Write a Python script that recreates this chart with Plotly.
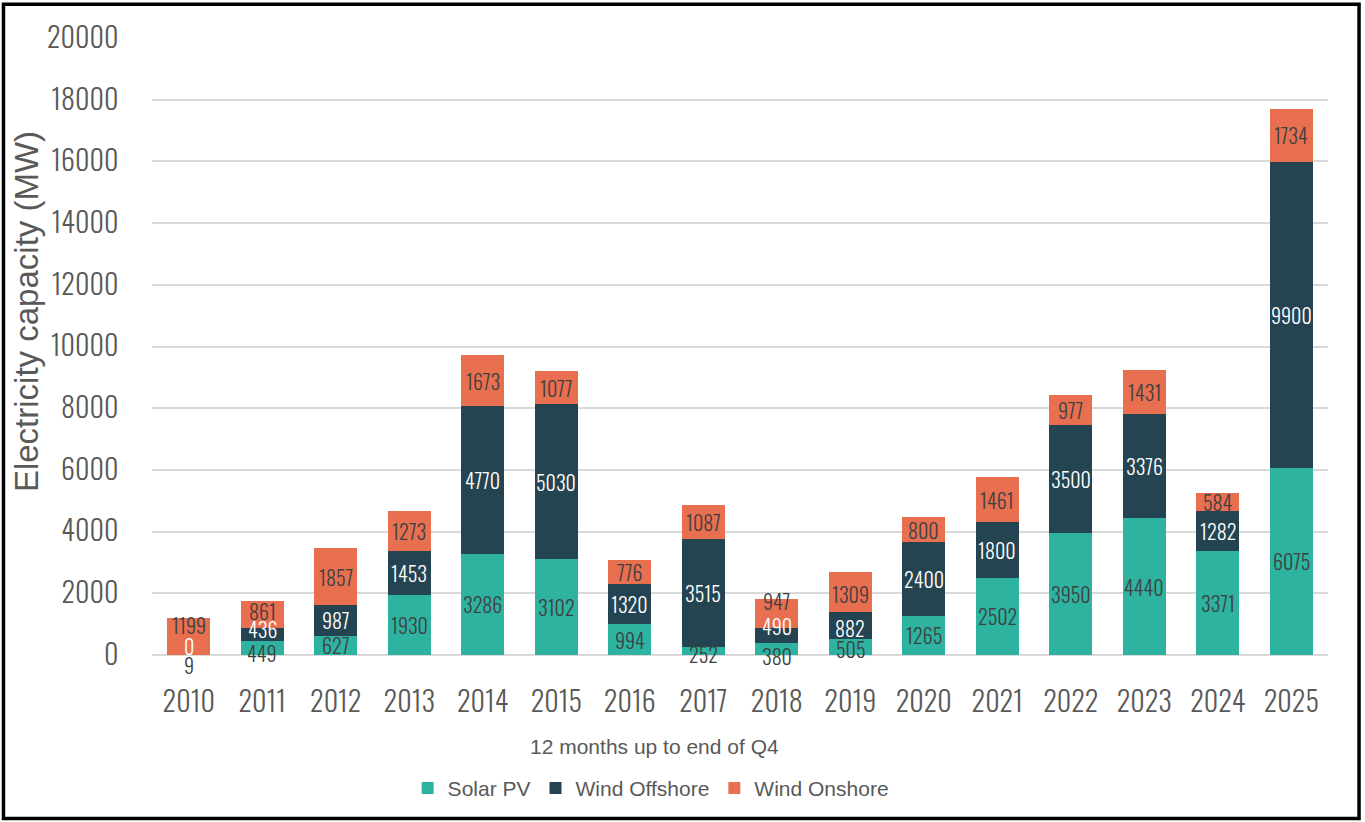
import plotly.graph_objects as go

years = [str(y) for y in range(2010, 2026)]
solar_pv = [9, 449, 627, 1930, 3286, 3102, 994, 252, 380, 505, 1265, 2502, 3950, 4440, 3371, 6075]
wind_offshore = [0, 436, 987, 1453, 4770, 5030, 1320, 3515, 490, 882, 2400, 1800, 3500, 3376, 1282, 9900]
wind_onshore = [1199, 861, 1857, 1273, 1673, 1077, 776, 1087, 947, 1309, 800, 1461, 977, 1431, 584, 1734]
y_ticks = list(range(0, 20001, 2000))

# label nudges (pixels, + = up) where the reference moved crowded labels apart
label_nudge = {
    ("2010", 0): -10, ("2010", 1): 9, ("2010", 2): 11,
    ("2011", 0): -5, ("2011", 1): 5, ("2011", 2): 3,
    ("2017", 0): -3,
    ("2018", 0): -7, ("2018", 1): 10, ("2018", 2): 13,
    ("2019", 0): -2, ("2019", 1): -2, ("2019", 2): -2,
}

COND = "Oswald, Roboto Condensed, sans-serif"
ARIAL = "Liberation Sans, Arial, sans-serif"
GREY = "#595959"

series = [
    ("Solar PV", solar_pv, "#2db3a0", "#404040"),
    ("Wind Offshore", wind_offshore, "#244451", "#ffffff"),
    ("Wind Onshore", wind_onshore, "#e86f50", "#404040"),
]

fig = go.Figure()
annotations = []
base = [0] * len(years)
for si, (name, vals, color, tcolor) in enumerate(series):
    fig.add_trace(go.Bar(
        name=name, x=years, y=vals,
        marker=dict(color=color, line=dict(width=0)),
        hoverinfo="skip",
    ))
    for i, (yr, v) in enumerate(zip(years, vals)):
        annotations.append(dict(
            x=i, y=base[i] + v / 2, xref="x", yref="y", text=str(v), showarrow=False,
            yshift=label_nudge.get((yr, si), 0), borderpad=0,
            font=dict(family=COND, size=20, color=tcolor, weight=300),
        ))
        base[i] += v

annotations.append(dict(
    x=0.4277, y=-0.149, xref="paper", yref="paper", text="12 months up to end of Q4",
    showarrow=False, xanchor="center", yanchor="middle",
    font=dict(family=ARIAL, size=21, color=GREY)))
annotations.append(dict(
    x=-0.1065, y=0.557, xref="paper", yref="paper", text="Electricity capacity (MW)",
    showarrow=False, xanchor="center", yanchor="middle", textangle=-90,
    font=dict(family=ARIAL, size=33, color=GREY)))

fig.update_layout(
    barmode="stack", bargap=0.415,
    width=1365, height=822,
    margin=dict(l=152, r=37, t=38, b=167),
    plot_bgcolor="white", paper_bgcolor="white",
    showlegend=True,
    legend=dict(orientation="h", x=0.424, xanchor="center", y=-0.216, yanchor="middle",
                font=dict(family=ARIAL, size=21, color=GREY),
                itemwidth=30, traceorder="normal"),
    xaxis=dict(
        type="category", range=[-0.5, len(years) - 0.5],
        tickfont=dict(family=COND, size=28, color=GREY, weight=300),
        ticks="outside", ticklen=22, tickcolor="rgba(0,0,0,0)",
        showline=False, showgrid=False, automargin=False,
    ),
    yaxis=dict(
        range=[0, 20000], tickvals=y_ticks, tickformat="d",
        tickfont=dict(family=COND, size=28, color=GREY, weight=300),
        ticks="outside", ticklen=27, tickcolor="rgba(0,0,0,0)",
        showgrid=True, gridcolor="#d9d9d9", gridwidth=2,
        zeroline=True, zerolinecolor="#d9d9d9", zerolinewidth=2,
        showline=False, automargin=False,
    ),
    annotations=annotations,
    shapes=[dict(type="rect", xref="paper", yref="paper",
                 x0=-0.1263, x1=1.0264, y0=-0.265, y1=1.0546,
                 line=dict(color="black", width=3.5), fillcolor="rgba(0,0,0,0)", layer="above")],
)

fig.write_html("out.html", config={"displayModeBar": False},
               post_script="document.body.style.margin='0px';")
